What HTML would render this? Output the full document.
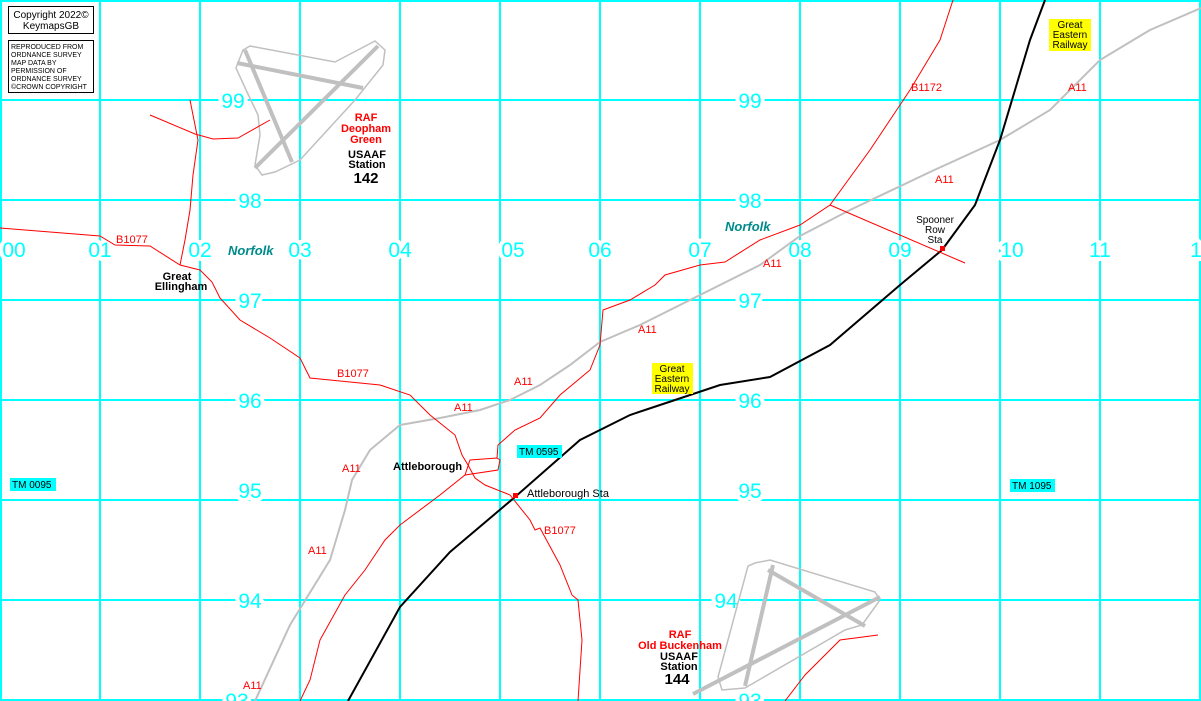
<!DOCTYPE html>
<html><head><meta charset="utf-8"><style>
body{margin:0;background:#fff}
svg{display:block;font-family:"Liberation Sans",Arial,sans-serif}
.g{font-size:21px;fill:#00ffff;text-anchor:middle;stroke:#fff;stroke-width:8px;paint-order:stroke;stroke-linejoin:round}
.r{font-size:11px;fill:#ff0000}
.b{font-size:11px;font-weight:bold;fill:#000;text-anchor:middle}
.rb{font-size:11px;font-weight:bold;fill:#ff0000;text-anchor:middle}
</style></head><body>
<svg width="1201" height="701" viewBox="0 0 1201 701" xmlns="http://www.w3.org/2000/svg">
<rect width="1201" height="701" fill="#fff"/>
<g stroke="#00ffff" stroke-width="2">
<line x1="1" y1="0" x2="1" y2="701"/>
<line x1="100" y1="0" x2="100" y2="701"/><line x1="200" y1="0" x2="200" y2="701"/><line x1="300" y1="0" x2="300" y2="701"/><line x1="400" y1="0" x2="400" y2="701"/><line x1="500" y1="0" x2="500" y2="701"/><line x1="600" y1="0" x2="600" y2="701"/><line x1="700" y1="0" x2="700" y2="701"/><line x1="800" y1="0" x2="800" y2="701"/><line x1="900" y1="0" x2="900" y2="701"/><line x1="1000" y1="0" x2="1000" y2="701"/><line x1="1100" y1="0" x2="1100" y2="701"/><line x1="1200" y1="0" x2="1200" y2="701"/>
<line x1="0" y1="1" x2="1201" y2="1"/><line x1="0" y1="100" x2="1201" y2="100"/><line x1="0" y1="200" x2="1201" y2="200"/><line x1="0" y1="300" x2="1201" y2="300"/><line x1="0" y1="400" x2="1201" y2="400"/><line x1="0" y1="500" x2="1201" y2="500"/><line x1="0" y1="600" x2="1201" y2="600"/><line x1="0" y1="700" x2="1201" y2="700"/>
</g>
<!-- grid labels -->
<g class="g">
<text x="14" y="257">00</text><text x="100" y="257">01</text><text x="200" y="257">02</text><text x="300" y="257">03</text><text x="400" y="257">04</text><text x="513" y="257">05</text><text x="600" y="257">06</text><text x="700" y="257">07</text><text x="800" y="257">08</text><text x="900" y="257">09</text><text x="1012" y="257">10</text><text x="1100" y="257">11</text><text x="1196" y="257">1</text>
<text x="233" y="108">99</text><text x="750" y="108">99</text><text x="250" y="208">98</text><text x="750" y="208">98</text><text x="250" y="308">97</text><text x="750" y="308">97</text><text x="250" y="408">96</text><text x="750" y="408">96</text><text x="250" y="498">95</text><text x="750" y="498">95</text><text x="250" y="608">94</text><text x="726" y="608">94</text><text x="237" y="708">93</text><text x="750" y="708">93</text>
</g>
<!-- airfields -->
<g fill="none" stroke="#c0c0c0">
<path d="M243,50 L250,46 L335,62 L375,41 L385,50 L383,65 L355,100 L300,160 L275,172 L262,175 L255,165 L260,135 L258,115 L247,92 L236,68 Z" stroke-width="1.5"/>
<g stroke-width="4"><line x1="237" y1="63" x2="363" y2="88"/><line x1="245" y1="50" x2="292" y2="162"/><line x1="378" y1="46" x2="255" y2="168"/></g>
<path d="M755,563 L770,560 L875,592 L880,600 L862,625 L845,630 L745,688 L722,690 L718,677 L748,566 Z" stroke-width="1.5"/>
<g stroke-width="4"><line x1="773" y1="565" x2="745" y2="686"/><line x1="768" y1="570" x2="865" y2="626"/><line x1="880" y1="597" x2="693" y2="694"/></g>
</g>
<!-- A11 grey -->
<polyline fill="none" stroke="#c0c0c0" stroke-width="2" points="255,701 290,625 330,560 345,510 352,480 370,450 400,425 440,418 480,410 510,400 540,385 570,365 600,342 640,325 700,295 760,265 800,236 850,210 930,172 1000,140 1050,110 1100,60 1150,30 1201,8"/>
<!-- railway -->
<polyline fill="none" stroke="#000" stroke-width="2" points="348,701 400,607 450,552 515,497 580,440 630,415 660,405 720,385 770,377 830,345 900,285 942,250 975,205 1000,140 1030,40 1045,0"/>
<!-- red roads -->
<g fill="none" stroke="#f00" stroke-width="1">
<polyline points="0,228 100,236 115,245 150,246 180,265 200,270 212,282 220,298 240,320 270,338 300,358 310,378 330,380 380,385 410,395 430,415 455,435 462,455 468,465 475,478 485,485 510,495 530,520 535,530 540,528 560,565 572,595 578,600 582,640 578,701"/>
<polyline points="190,100 198,140 193,175 190,210 185,240 180,265"/>
<polyline points="150,115 195,134 213,139 238,138 270,120"/>
<polyline points="300,701 310,680 320,640 345,595 365,570 385,540 400,525 440,495 465,475 498,470 500,460 497,458 470,460 465,475"/>
<polyline points="497,458 498,445 515,430 540,418 560,395 590,370 600,345 603,310 630,300 655,285 665,275 700,265 725,262 760,240 800,225 830,205 870,150 910,90 940,40 953,0"/>
<polyline points="830,205 965,263"/>
<polyline points="785,701 805,675 840,640 878,635"/>
</g>
<rect x="513" y="493" width="5" height="5" fill="#f00"/>
<rect x="940" y="246" width="5" height="5" fill="#f00"/>
<text x="228" y="255" font-size="13" font-style="italic" font-weight="bold" fill="#008b8b">Norfolk</text>
<text x="725" y="231" font-size="13" font-style="italic" font-weight="bold" fill="#008b8b">Norfolk</text>
<!-- road labels -->
<g class="r">
<text x="116" y="243">B1077</text><text x="337" y="377">B1077</text><text x="544" y="534">B1077</text><text x="911" y="91">B1172</text>
<text x="1068" y="91">A11</text><text x="935" y="183">A11</text><text x="763" y="267">A11</text><text x="638" y="333">A11</text><text x="514" y="385">A11</text><text x="454" y="411">A11</text><text x="342" y="472">A11</text><text x="308" y="554">A11</text><text x="243" y="689">A11</text>
</g>
<!-- place labels -->
<text class="b" x="177" y="280">Great</text><text class="b" x="181" y="290">Ellingham</text>
<text x="393" y="470" font-size="11" font-weight="bold">Attleborough</text>
<text x="527" y="497" font-size="11">Attleborough Sta</text>
<text x="935" y="223" font-size="10" text-anchor="middle">Spooner</text><text x="935" y="233" font-size="10" text-anchor="middle">Row</text><text x="935" y="243" font-size="10" text-anchor="middle">Sta</text>
<rect x="517" y="445" width="45" height="13" fill="#00ffff"/><text x="519" y="455" font-size="10">TM 0595</text>
<rect x="10" y="478" width="46" height="13" fill="#00ffff"/><text x="12" y="488" font-size="10">TM 0095</text>
<rect x="1010" y="479" width="45" height="13" fill="#00ffff"/><text x="1012" y="489" font-size="10">TM 1095</text>
<rect x="652" y="363" width="41" height="31" fill="#ffff00"/><text x="672" y="372" font-size="10" text-anchor="middle">Great</text><text x="672" y="382" font-size="10" text-anchor="middle">Eastern</text><text x="672" y="392" font-size="10" text-anchor="middle">Railway</text>
<rect x="1049" y="19" width="42" height="32" fill="#ffff00"/><text x="1070" y="28" font-size="10" text-anchor="middle">Great</text><text x="1070" y="38" font-size="10" text-anchor="middle">Eastern</text><text x="1070" y="48" font-size="10" text-anchor="middle">Railway</text>
<text class="rb" x="366" y="121">RAF</text><text class="rb" x="366" y="132">Deopham</text><text class="rb" x="366" y="143">Green</text>
<text class="b" x="367" y="158">USAAF</text><text class="b" x="367" y="168">Station</text><text x="366" y="183" font-size="15" font-weight="bold" text-anchor="middle">142</text>
<text class="rb" x="680" y="638">RAF</text><text class="rb" x="680" y="649">Old Buckenham</text>
<text class="b" x="679" y="660">USAAF</text><text class="b" x="679" y="670">Station</text><text x="677" y="684" font-size="15" font-weight="bold" text-anchor="middle">144</text>
<!-- copyright -->
<rect x="8.5" y="6.5" width="85" height="27" fill="#fff" stroke="#000"/>
<text x="51" y="18" font-size="10" text-anchor="middle">Copyright 2022©</text><text x="51" y="29" font-size="10" text-anchor="middle">KeymapsGB</text>
<rect x="8.5" y="40.5" width="85" height="52" fill="#fff" stroke="#000"/>
<g font-size="7"><text x="11" y="49">REPRODUCED FROM</text><text x="11" y="57">ORDNANCE SURVEY</text><text x="11" y="65">MAP DATA BY</text><text x="11" y="73">PERMISSION OF</text><text x="11" y="81">ORDNANCE SURVEY</text><text x="11" y="89">©CROWN COPYRIGHT</text></g>
</svg>
</body></html>
